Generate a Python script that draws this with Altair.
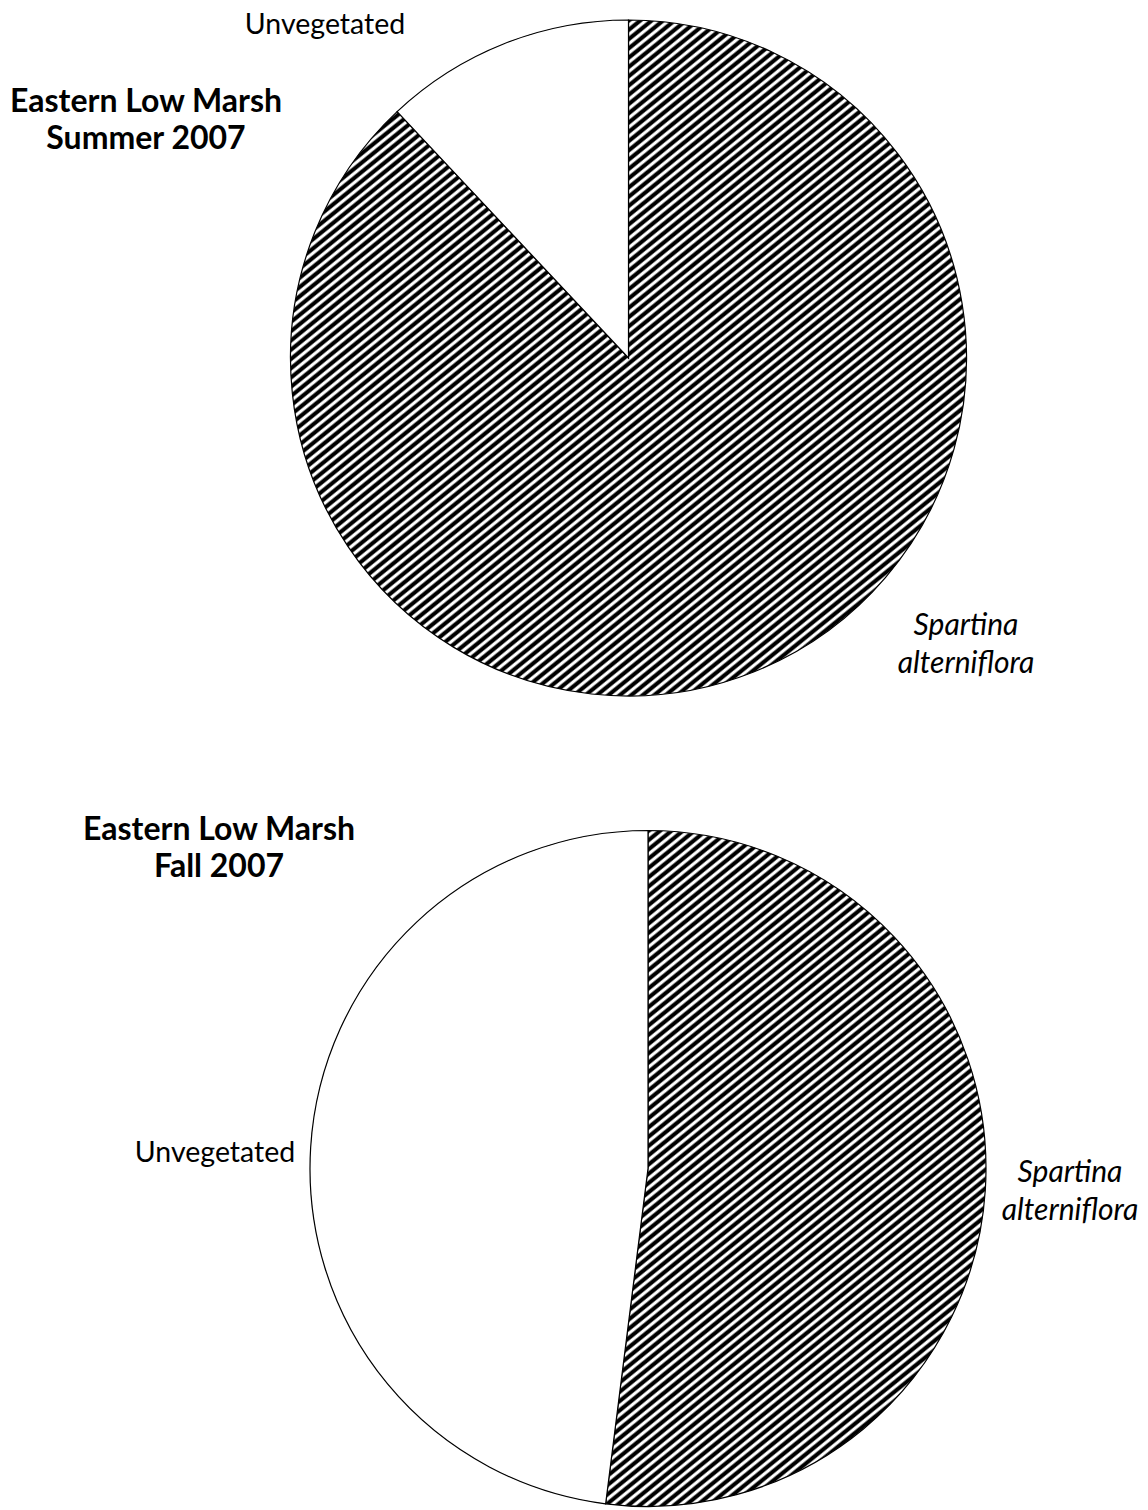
import math
import altair as alt
import pandas as pd

# ---------------- data ----------------
categories = ["Spartina alterniflora", "Unvegetated"]
summer_values = [88, 12]
fall_values = [52, 48]

summer_title = ["Eastern Low Marsh", "Summer 2007"]
fall_title = ["Eastern Low Marsh", "Fall 2007"]
unveg_label = ["Unvegetated"]
spartina_label = ["Spartina", "alterniflora"]

# ---------------- styles ----------------
FONT = "Lato"
R = 338
STRIPE_ANGLE = 39.0   # degrees, stripes rising to the right
STRIPE_PERIOD = 7.2   # px, perpendicular


def hatch_gradient(radius):
    t = math.radians(STRIPE_ANGLE)
    s, c = math.sin(t), math.cos(t)
    half = 0.5 * (s + c)
    length_px = 2 * half * 2 * radius
    n = int(length_px / STRIPE_PERIOD)
    stops = []
    for k in range(n):
        o = k / n
        for frac, col in ((0.0, "white"), (0.22, "white"), (0.45, "black"), (0.8, "black")):
            stops.append({"offset": round(o + frac / n, 6), "color": col})
    stops.append({"offset": 1.0, "color": "white"})
    return {
        "gradient": "linear",
        "x1": round(0.5 - half * s, 5),
        "y1": round(0.5 - half * c, 5),
        "x2": round(0.5 + half * s, 5),
        "y2": round(0.5 + half * c, 5),
        "stops": stops,
    }


HATCH = hatch_gradient(R)


def text_layer(lines, x, y, size, weight="normal", style="normal", line_height=37):
    return alt.Chart(pd.DataFrame({"k": [0]})).mark_text(
        text=lines,
        font=FONT,
        fontSize=size,
        fontWeight=weight,
        fontStyle=style,
        align="center",
        baseline="alphabetic",
        lineHeight=line_height,
        color="black",
    ).encode(x=alt.value(x), y=alt.value(y))


def pie(values, cx, cy):
    df = pd.DataFrame({"category": categories, "value": values, "idx": list(range(len(values)))})
    base = alt.Chart(df)
    disc = base.transform_aggregate(total="sum(value)").mark_arc(
        radius=R, fill=HATCH, strokeWidth=0
    ).encode(theta=alt.Theta("total:Q", stack=True), x=alt.value(cx), y=alt.value(cy))
    slices = base.mark_arc(radius=R, stroke="black", strokeWidth=1.2).encode(
        theta=alt.Theta("value:Q", stack=True),
        order=alt.Order("idx:Q"),
        fill=alt.Fill(
            "category:N",
            scale=alt.Scale(domain=categories, range=["transparent", "white"]),
            legend=None,
        ),
        x=alt.value(cx),
        y=alt.value(cy),
    )
    return disc, slices


W = 1132
top_disc, top_slices = pie(summer_values, 620.5, 350)
bot_disc, bot_slices = pie(fall_values, 640, 1160.5)

chart = alt.layer(
    top_disc,
    top_slices,
    text_layer(unveg_label, 317, 26, 28.5),
    text_layer(summer_title, 138, 104, 32, weight="bold", line_height=36.5),
    text_layer(spartina_label, 958, 627, 30, style="italic", line_height=38),
    bot_disc,
    bot_slices,
    text_layer(unveg_label, 207, 1154, 28.5),
    text_layer(fall_title, 211, 832, 32, weight="bold", line_height=36.5),
    text_layer(spartina_label, 1062, 1174, 30, style="italic", line_height=38),
).properties(
    width=W, height=1500, padding=0, background="white"
).configure_view(stroke=None)

chart.save("out.html", embed_options={"renderer": "svg", "actions": False})
